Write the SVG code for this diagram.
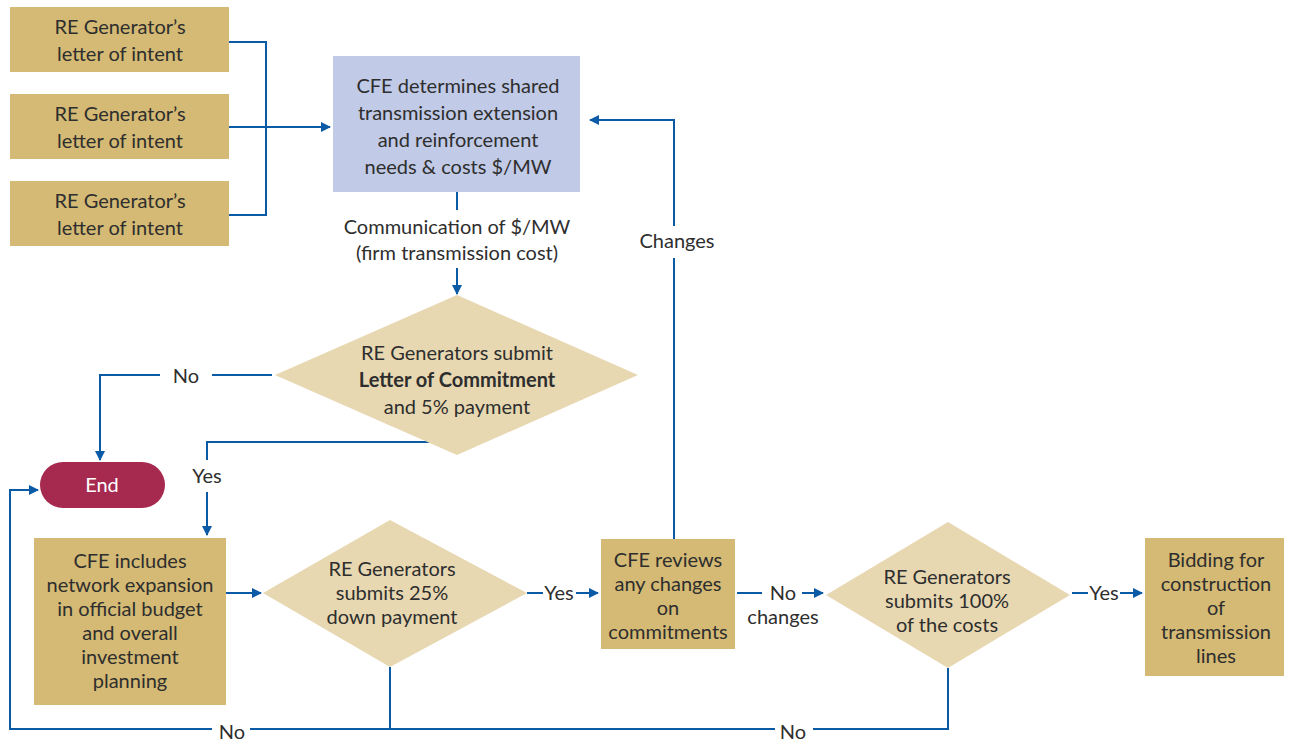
<svg xmlns="http://www.w3.org/2000/svg" width="1290" height="750" viewBox="0 0 1290 750">
<defs>
<marker id="ah" viewBox="0 0 10 10" refX="9" refY="5" markerWidth="5" markerHeight="5" orient="auto" markerUnits="strokeWidth">
<path d="M0,0 L10,5 L0,10 z" fill="#0B5AA6"/>
</marker>
<style>
.box{fill:#D4BA74}
.dia{fill:#E8D8B2}
.blue{fill:#C1CAE6}
.t{font-family:Lato,"Liberation Sans",sans-serif;font-size:20px;font-weight:400;fill:#2e2e2e;text-anchor:middle}
.b{font-weight:bold}
.c{fill:none;stroke:#0B5AA6;stroke-width:2}
.a{marker-end:url(#ah)}
</style>
</defs>
<rect width="1290" height="750" fill="#fff"/>
<g id="connectors">
<path class="c" d="M229,42 H266 V215 H229"/>
<path class="c a" d="M229,127 H330"/>
<path class="c" d="M457,192 V210"/>
<path class="c a" d="M457,268 V294"/>
<path class="c" d="M272,375 H212"/>
<path class="c a" d="M160,375 H100 V460"/>
<path class="c" d="M430,442 H207 V460"/>
<path class="c a" d="M207,492 V535"/>
<path class="c a" d="M226,593 H261"/>
<path class="c" d="M527,593 H543"/>
<path class="c a" d="M576,593 H598"/>
<path class="c" d="M674,539 V258"/>
<path class="c a" d="M674,226 V120 H590"/>
<path class="c" d="M737,593 H762"/>
<path class="c a" d="M802,593 H823"/>
<path class="c" d="M1072,593 H1088"/>
<path class="c a" d="M1120,593 H1142"/>
<path class="c" d="M390,667 V729"/>
<path class="c" d="M948,668 V729 H813"/>
<path class="c" d="M775,729 H250"/>
<path class="c a" d="M212,729 H10 V490 H38"/>
</g>
<g id="n1"><rect class="box" x="10" y="7" width="219" height="65"/><text class="t" x="120" y="34">RE Generator’s</text><text class="t" x="120" y="61">letter of intent</text></g>
<g id="n2"><rect class="box" x="10" y="94" width="219" height="65"/><text class="t" x="120" y="121">RE Generator’s</text><text class="t" x="120" y="148">letter of intent</text></g>
<g id="n3"><rect class="box" x="10" y="181" width="219" height="65"/><text class="t" x="120" y="208">RE Generator’s</text><text class="t" x="120" y="235">letter of intent</text></g>
<g id="n4"><rect class="blue" x="333" y="56" width="247" height="136"/>
<text class="t" x="458" y="93">CFE determines shared</text><text class="t" x="458" y="120">transmission extension</text><text class="t" x="458" y="147">and reinforcement</text><text class="t" x="458" y="174">needs &amp; costs $/MW</text></g>
<g id="lbl-comm"><text class="t" x="457" y="234">Communication of $/MW</text><text class="t" x="457" y="260">(firm transmission cost)</text></g>
<g id="n5"><polygon class="dia" points="457,295 638,375 457,455 275,375"/>
<text class="t" x="457" y="360">RE Generators submit</text><text class="t b" x="457" y="387">Letter of Commitment</text><text class="t" x="457" y="414">and 5% payment</text></g>
<g id="n6"><rect x="40" y="462" width="125" height="46" rx="23" fill="#A6294F"/><text class="t" x="102" y="492" style="fill:#fff">End</text></g>
<g id="n7"><rect class="box" x="34" y="538" width="192" height="167"/>
<text class="t" x="130" y="568">CFE includes</text><text class="t" x="130" y="592">network expansion</text><text class="t" x="130" y="616">in official budget</text><text class="t" x="130" y="640">and overall</text><text class="t" x="130" y="664">investment</text><text class="t" x="130" y="688">planning</text></g>
<g id="n8"><polygon class="dia" points="390,520 527,593 390,667 263,593"/>
<text class="t" x="392" y="576">RE Generators</text><text class="t" x="392" y="600">submits 25%</text><text class="t" x="392" y="624">down payment</text></g>
<g id="n9"><rect class="box" x="601" y="539" width="134" height="110"/>
<text class="t" x="668" y="567">CFE reviews</text><text class="t" x="668" y="591">any changes</text><text class="t" x="668" y="615">on</text><text class="t" x="668" y="639">commitments</text></g>
<g id="n10"><polygon class="dia" points="948,522 1070,595 948,668 826,595"/>
<text class="t" x="947" y="584">RE Generators</text><text class="t" x="947" y="608">submits 100%</text><text class="t" x="947" y="632">of the costs</text></g>
<g id="n11"><rect class="box" x="1145" y="538" width="139" height="138"/>
<text class="t" x="1216" y="567">Bidding for</text><text class="t" x="1216" y="591">construction</text><text class="t" x="1216" y="615">of</text><text class="t" x="1216" y="639">transmission</text><text class="t" x="1216" y="663">lines</text></g>
<g id="labels">
<text class="t" x="186" y="383">No</text>
<text class="t" x="207" y="483">Yes</text>
<text class="t" x="559" y="600">Yes</text>
<text class="t" x="677" y="248">Changes</text>
<text class="t" x="783" y="600">No</text>
<text class="t" x="783" y="624">changes</text>
<text class="t" x="1104" y="600">Yes</text>
<text class="t" x="232" y="739">No</text>
<text class="t" x="793" y="739">No</text>
</g>
</svg>
